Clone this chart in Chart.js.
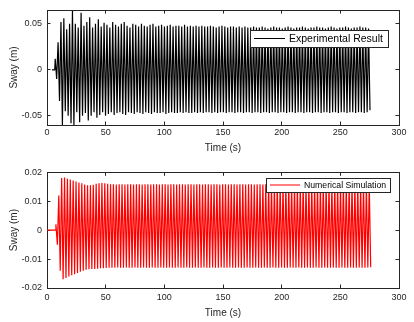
<!DOCTYPE html>
<html>
<head>
<meta charset="utf-8">
<script src="https://cdn.jsdelivr.net/npm/chart.js@4.4.1/dist/chart.umd.min.js"></script>
<style>
  html, body { margin: 0; padding: 0; background: #fff; }
  .panel { position: absolute; left: 0; width: 414px; height: 161px; }
  #top { top: 0; }
  #bottom { top: 161px; }
</style>
</head>
<body>
<div class="panel" id="top"><canvas id="swayExp" width="414" height="161"></canvas></div>
<div class="panel" id="bottom"><canvas id="swaySim" width="414" height="161"></canvas></div>
<script>
// axis ticks
const timeTicks = [0, 50, 100, 150, 200, 250, 300];
const expSwayTicks = [-0.05, 0, 0.05];
const simSwayTicks = [-0.02, -0.01, 0, 0.01, 0.02];

// experimental sway (m): at rest, then one crest + one trough per wave cycle
const expRest = [[4.2, 0], [6.6, 0]];   // [time s, sway m]
const expStart = 7.0;                   // time of first crest (s)
const expCycle = 2.45;                  // wave period (s)
const expCrests = [
  0.012, 0.030, 0.052, 0.056, 0.044, 0.050, 0.064, 0.050, 0.046, 0.062,
  0.048, 0.052, 0.057, 0.046, 0.050, 0.055, 0.047, 0.051, 0.049, 0.046,
  0.052, 0.049, 0.047, 0.050, 0.052, 0.048, 0.046, 0.050, 0.049, 0.047,
  0.050, 0.048, 0.047, 0.049, 0.050, 0.047, 0.048, 0.049, 0.047, 0.048,
  0.049, 0.047, 0.048, 0.048, 0.047, 0.049, 0.047, 0.048, 0.047, 0.048,
  0.047, 0.048, 0.047, 0.047, 0.048, 0.047, 0.046, 0.047, 0.048, 0.047,
  0.046, 0.047, 0.047, 0.046, 0.047, 0.046, 0.047, 0.046, 0.046, 0.047,
  0.046, 0.046, 0.047, 0.046, 0.045, 0.046, 0.047, 0.046, 0.046, 0.045,
  0.046, 0.047, 0.046, 0.045, 0.046, 0.046, 0.047, 0.046, 0.045, 0.046,
  0.046, 0.047, 0.046, 0.046, 0.045, 0.046, 0.047, 0.046, 0.045, 0.046,
  0.046, 0.047, 0.046, 0.045, 0.046, 0.046, 0.047, 0.046, 0.046, 0.045
];
const expTroughs = [
  -0.010, -0.034, -0.060, -0.045, -0.050, -0.058, -0.060, -0.046, -0.057, -0.050,
  -0.047, -0.055, -0.050, -0.046, -0.052, -0.049, -0.046, -0.050, -0.048, -0.046,
  -0.049, -0.047, -0.046, -0.048, -0.049, -0.046, -0.047, -0.048, -0.046, -0.047,
  -0.048, -0.046, -0.047, -0.048, -0.046, -0.047, -0.047, -0.046, -0.048, -0.047,
  -0.046, -0.047, -0.047, -0.046, -0.047, -0.046, -0.047, -0.047, -0.046, -0.047,
  -0.046, -0.047, -0.046, -0.046, -0.047, -0.046, -0.047, -0.046, -0.046, -0.047,
  -0.046, -0.046, -0.047, -0.046, -0.046, -0.047, -0.046, -0.046, -0.047, -0.046,
  -0.046, -0.047, -0.046, -0.046, -0.047, -0.046, -0.046, -0.047, -0.046, -0.046,
  -0.047, -0.046, -0.046, -0.047, -0.046, -0.046, -0.047, -0.046, -0.046, -0.047,
  -0.046, -0.046, -0.047, -0.046, -0.046, -0.047, -0.046, -0.046, -0.047, -0.046,
  -0.046, -0.047, -0.046, -0.046, -0.047, -0.046, -0.046, -0.047, -0.046, -0.044
];

// numerical sway (m)
const simRest = [[0, 0], [7.2, 0]];
const simStart = 7.6;
const simCycle = 2.45;
const simCrests = [
  0.0020, 0.0120, 0.0180, 0.0182, 0.0178, 0.0175, 0.0172, 0.0168, 0.0165, 0.0162,
  0.0158, 0.0155, 0.0155, 0.0157, 0.0160, 0.0162, 0.0163, 0.0162, 0.0160, 0.0159,
  0.0159, 0.0158, 0.0159, 0.0159, 0.0158, 0.0159, 0.0159, 0.0158, 0.0159, 0.0159,
  0.0158, 0.0159, 0.0159, 0.0158, 0.0159, 0.0159, 0.0158, 0.0159, 0.0159, 0.0158,
  0.0159, 0.0159, 0.0158, 0.0159, 0.0159, 0.0158, 0.0159, 0.0159, 0.0158, 0.0159,
  0.0159, 0.0158, 0.0159, 0.0159, 0.0158, 0.0159, 0.0159, 0.0158, 0.0159, 0.0159,
  0.0158, 0.0159, 0.0159, 0.0158, 0.0159, 0.0159, 0.0158, 0.0159, 0.0159, 0.0158,
  0.0159, 0.0159, 0.0158, 0.0159, 0.0159, 0.0158, 0.0159, 0.0159, 0.0158, 0.0159,
  0.0159, 0.0158, 0.0159, 0.0159, 0.0158, 0.0159, 0.0159, 0.0158, 0.0159, 0.0159,
  0.0158, 0.0159, 0.0159, 0.0158, 0.0159, 0.0159, 0.0158, 0.0159, 0.0159, 0.0158,
  0.0159, 0.0159, 0.0158, 0.0159, 0.0159, 0.0158, 0.0159, 0.0159, 0.0158, 0.0159
];
const simTroughs = [
  -0.0050, -0.0140, -0.0170, -0.0165, -0.0160, -0.0156, -0.0152, -0.0148, -0.0144, -0.0140,
  -0.0137, -0.0135, -0.0134, -0.0134, -0.0133, -0.0132, -0.0132, -0.0131, -0.0130, -0.0130,
  -0.0130, -0.0129, -0.0130, -0.0130, -0.0129, -0.0130, -0.0130, -0.0129, -0.0130, -0.0130,
  -0.0129, -0.0130, -0.0130, -0.0129, -0.0130, -0.0130, -0.0129, -0.0130, -0.0130, -0.0129,
  -0.0130, -0.0130, -0.0129, -0.0130, -0.0130, -0.0129, -0.0130, -0.0130, -0.0129, -0.0130,
  -0.0130, -0.0129, -0.0130, -0.0130, -0.0129, -0.0130, -0.0130, -0.0129, -0.0130, -0.0130,
  -0.0129, -0.0130, -0.0130, -0.0129, -0.0130, -0.0130, -0.0129, -0.0130, -0.0130, -0.0129,
  -0.0130, -0.0130, -0.0129, -0.0130, -0.0130, -0.0129, -0.0130, -0.0130, -0.0129, -0.0130,
  -0.0130, -0.0129, -0.0130, -0.0130, -0.0129, -0.0130, -0.0130, -0.0129, -0.0130, -0.0130,
  -0.0129, -0.0130, -0.0130, -0.0129, -0.0130, -0.0130, -0.0129, -0.0130, -0.0130, -0.0129,
  -0.0130, -0.0130, -0.0129, -0.0130, -0.0130, -0.0129, -0.0130, -0.0130, -0.0129, -0.0128
];

// rest points followed by crest/trough pairs, half a cycle apart
function wavePoints(rest, start, cycle, crests, troughs) {
  const pts = rest.map(([t, v]) => ({x: t, y: v}));
  crests.forEach((c, i) => {
    pts.push({x: start + i * cycle, y: c});
    pts.push({x: start + (i + 0.5) * cycle, y: troughs[i]});
  });
  return pts;
}

const FONT = '"Liberation Sans", Arial, Helvetica, sans-serif';
const AXIS_COLOR = '#262626';
const TICK_IN = -3.5;   // negative tick length -> tick marks point into the plot

// axis line plus inward tick marks, no grid lines
const boxGrid = { display: true, drawOnChartArea: false, drawTicks: true, tickLength: TICK_IN, color: AXIS_COLOR, lineWidth: 1 };
const boxBorder = { display: true, color: AXIS_COLOR, width: 1 };

// fixed axis sizes; drop the label overhang padding so layout.padding sets the plot box
function fixSize(w, h) {
  return s => {
    if (w !== null) s.width = w;
    if (h !== null) s.height = h;
    s.paddingTop = s.paddingBottom = s.paddingLeft = s.paddingRight = 0;
  };
}

// boxed legend in the upper right of the plot
const boxLegend = {
  id: 'boxLegend',
  afterDraw(chart, args, o) {
    const ds = chart.data.datasets[0];
    const {ctx} = chart;
    const midY = o.y + o.h / 2;
    ctx.save();
    ctx.fillStyle = '#fff';
    ctx.fillRect(o.x, o.y, o.w, o.h);
    ctx.strokeStyle = AXIS_COLOR;
    ctx.lineWidth = 1;
    ctx.strokeRect(o.x + 0.5, o.y + 0.5, o.w, o.h);
    ctx.strokeStyle = ds.borderColor;
    ctx.beginPath();
    ctx.moveTo(o.x + 4, midY);
    ctx.lineTo(o.x + 4 + o.lineLen, midY);
    ctx.stroke();
    ctx.fillStyle = '#000';
    ctx.font = o.fontSize + 'px ' + FONT;
    ctx.textBaseline = 'middle';
    ctx.fillText(ds.label, o.x + 8 + o.lineLen, midY + 0.5);
    ctx.restore();
  }
};

function swayChart(id, cfg) {
  const xTicks = s => { s.ticks = timeTicks.map(v => ({value: v})); };
  const yTicks = s => { s.ticks = cfg.yTicks.map(v => ({value: v})); };
  return new Chart(document.getElementById(id), {
    type: 'line',
    data: {
      datasets: [{
        label: cfg.label,
        data: cfg.points,
        xAxisID: 'x',
        yAxisID: 'y',
        borderColor: cfg.color,
        borderWidth: 1.2,
        pointRadius: 0,
        tension: 0,
        borderJoinStyle: 'bevel'
      }]
    },
    options: {
      responsive: false,
      animation: false,
      devicePixelRatio: 1,
      events: [],
      layout: { autoPadding: false, padding: { top: cfg.padTop, right: 15, left: 0, bottom: 0 } },
      scales: {
        x: {
          type: 'linear', position: 'bottom', min: 0, max: 300,
          afterBuildTicks: xTicks,
          afterFit: fixSize(null, cfg.xHeight),
          grid: boxGrid,
          border: boxBorder,
          ticks: {
            autoSkip: false, maxRotation: 0, padding: cfg.xTickPad - TICK_IN,
            color: AXIS_COLOR, font: { family: FONT, size: 9 }
          },
          title: {
            display: true, text: 'Time (s)', color: AXIS_COLOR,
            font: { family: FONT, size: 10 }, padding: { top: 0, bottom: cfg.xTitlePad }
          }
        },
        x2: {
          type: 'linear', position: 'top', min: 0, max: 300,
          afterBuildTicks: xTicks,
          afterFit: fixSize(null, 0),
          grid: boxGrid,
          border: boxBorder,
          ticks: { display: false }
        },
        y: {
          type: 'linear', position: 'left', min: cfg.yMin, max: cfg.yMax,
          afterBuildTicks: yTicks,
          afterFit: fixSize(47, null),
          grid: boxGrid,
          border: boxBorder,
          ticks: {
            autoSkip: false, padding: 5 - TICK_IN,
            color: AXIS_COLOR, font: { family: FONT, size: 9 },
            callback: v => String(v)
          },
          title: {
            display: true, text: 'Sway (m)', color: AXIS_COLOR,
            font: { family: FONT, size: 10 }, padding: { top: 8, bottom: 0 }
          }
        },
        y2: {
          type: 'linear', position: 'right', min: cfg.yMin, max: cfg.yMax,
          afterBuildTicks: yTicks,
          afterFit: fixSize(0, null),
          grid: boxGrid,
          border: boxBorder,
          ticks: { display: false }
        }
      },
      plugins: {
        legend: { display: false },
        tooltip: { enabled: false },
        boxLegend: cfg.legend
      }
    },
    plugins: [boxLegend]
  });
}

swayChart('swayExp', {
  label: 'Experimental Result',
  points: wavePoints(expRest, expStart, expCycle, expCrests, expTroughs),
  color: '#000000',
  yMin: -0.06, yMax: 0.065, yTicks: expSwayTicks,
  padTop: 10, xHeight: 36, xTickPad: 2.5, xTitlePad: 7,
  legend: { x: 250, y: 30, w: 138, h: 17, lineLen: 31, fontSize: 10.5 }
});

swayChart('swaySim', {
  label: 'Numerical Simulation',
  points: wavePoints(simRest, simStart, simCycle, simCrests, simTroughs),
  color: '#ff0000',
  yMin: -0.02, yMax: 0.02, yTicks: simSwayTicks,
  padTop: 11.3, xHeight: 34, xTickPad: 4, xTitlePad: 3,
  legend: { x: 266, y: 17, w: 124, h: 14, lineLen: 30, fontSize: 8.7 }
});
</script>
</body>
</html>
